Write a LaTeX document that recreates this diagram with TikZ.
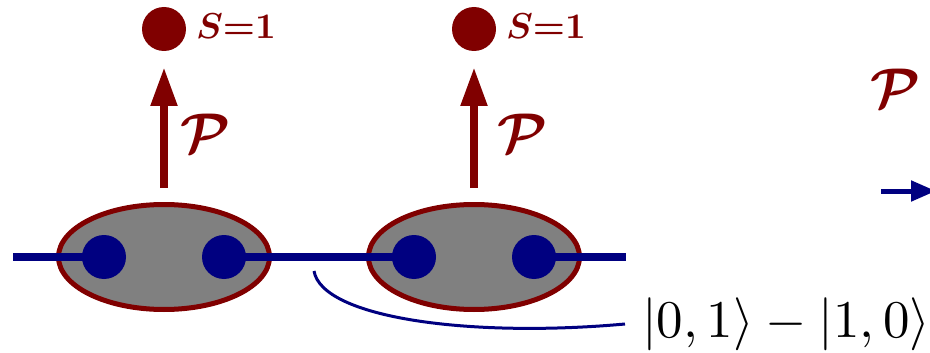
\documentclass[tikz,border=0pt]{standalone}
\usepackage{graphicx}
\usepackage{amsmath}
\usetikzlibrary{arrows.meta,shapes.geometric}
\definecolor{dred}{RGB}{128,0,0}
\definecolor{dblue}{RGB}{0,0,128}
\definecolor{mgray}{RGB}{128,128,128}
\begin{document}
\begin{tikzpicture}[x=1pt,y=-1pt,
  pair/.style={ellipse, draw=dred, fill=mgray, line width=5pt, minimum width=211pt, minimum height=105pt, inner sep=0pt, outer sep=0pt},
  site/.style={circle, fill=dblue, minimum size=44pt, inner sep=0pt, outer sep=0pt},
  spin/.style={circle, fill=dred, minimum size=44pt, inner sep=0pt, outer sep=0pt},
  bond/.style={dblue, line width=8pt},
  proj/.style={dred, line width=8pt, -{Triangle[length=39pt,width=25pt]}},
  lbl/.style={inner sep=0pt, outer sep=0pt, anchor=base west}]
\useasboundingbox (0,0) rectangle (930,353);
\clip (0,0) rectangle (930,353);
% valence bond pairs
\node[pair] (e1) at (164,257) {};
\node[pair] (e2) at (474,257) {};
% sites
\node[site] (d1) at (104,257) {};
\node[site] (d2) at (224,257) {};
\node[site] (d3) at (414,257) {};
\node[site] (d4) at (534,257) {};
\coordinate (l0) at (13,257);
\coordinate (l1) at (626,257);
\draw[bond] (l0) -- (d1.center);
\draw[bond] (d2.center) -- (d3.center);
\draw[bond] (d4.center) -- (l1);
% spin-1 sites
\node[spin] (t1) at (164,29) {};
\node[spin] (t2) at (474,29) {};
\draw[proj] ([yshift=16.5pt]e1.north) -- ([yshift=-16pt]t1.south);
\draw[proj] ([yshift=16.5pt]e2.north) -- ([yshift=-16pt]t2.south);
% labels
\node[lbl, text=dred] (s1) at (196,39) {\scalebox{3.6}{$\boldsymbol{S{=}1}$}};
\node[lbl, text=dred] (s2) at (506,39) {\scalebox{3.6}{$\boldsymbol{S{=}1}$}};
\node[lbl, text=dred] (p1) at (180,152) {\scalebox{5.6}{$\boldsymbol{\mathcal{P}}$}};
\node[lbl, text=dred] (p2) at (497,152) {\scalebox{5.6}{$\boldsymbol{\mathcal{P}}$}};
\node[lbl, text=dred] (p3) at (870,107) {\scalebox{5.6}{$\boldsymbol{\mathcal{P}}$}};
\node[lbl] (ket) at (642,337) {\scalebox{5.3}{$|0,1\rangle-|1,0\rangle$}};
% singlet marker
\coordinate (c0) at (314,271);
\coordinate (c1) at (625,324);
\draw[dblue, line width=3pt] (c0) .. controls (322,318) and (470,338) .. (c1);
% map arrow
\coordinate (r0) at (881,191);
\coordinate (r1) at (936,191);
\draw[dblue, line width=5pt, -{Triangle[length=25pt,width=20pt]}] (r0) -- (r1);
\end{tikzpicture}
\end{document}
